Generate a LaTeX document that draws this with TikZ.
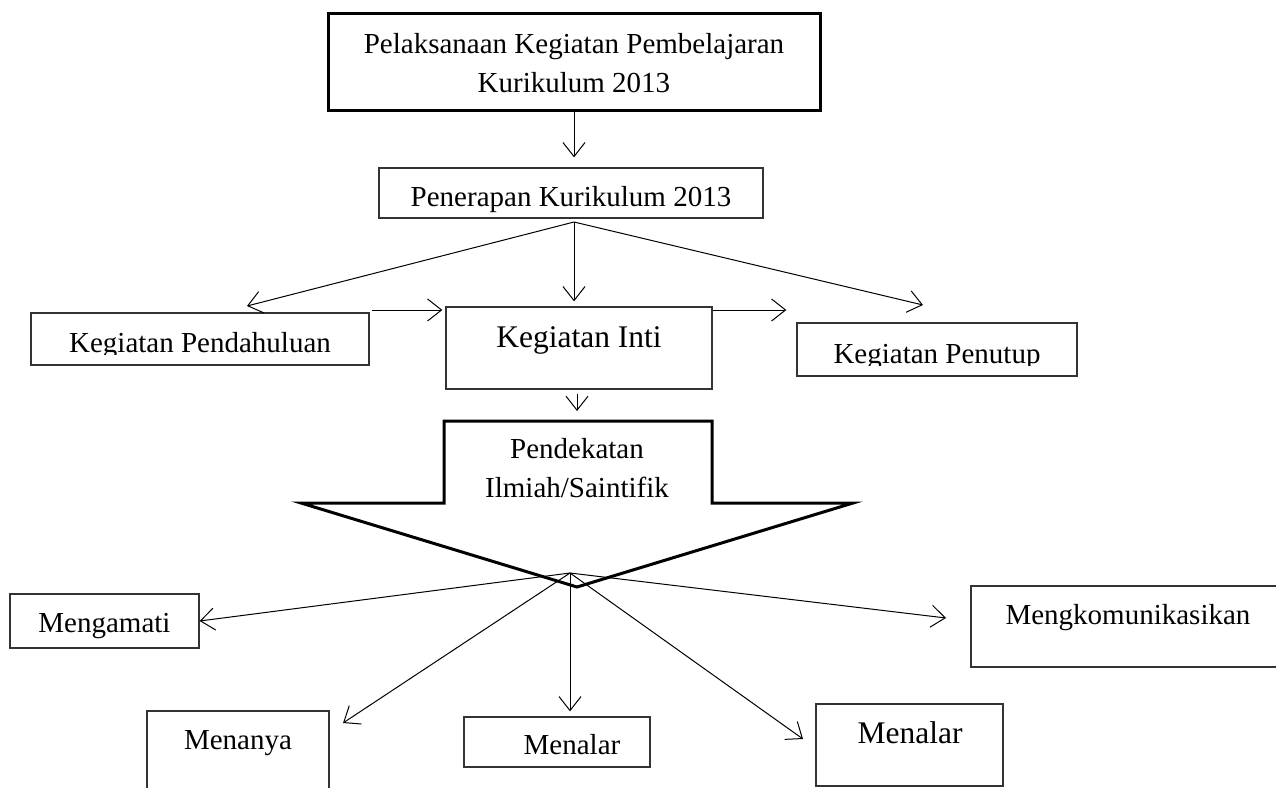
\documentclass[tikz,border=0pt]{standalone}
\usepackage{fontspec}
\setmainfont{Liberation Serif}
\usetikzlibrary{arrows.meta}

\tikzset{
  box/.style={draw=black!80, line width=1.3pt, inner sep=0pt},
  txt/.style={anchor=base, inner sep=0pt, font=\fontsize{29}{39}\selectfont},
  bigtxt/.style={anchor=base, inner sep=0pt, font=\fontsize{31.5}{38}\selectfont},
  arr/.style={draw, line width=1pt, -{Straight Barb[length=14pt,width=22pt]}},
}

\begin{document}
\begin{tikzpicture}[x=1pt,y=1pt,yscale=-1,xscale=1]
    \path[use as bounding box] (0,0) rectangle (1276,787); %page size of the diagram

    %Shape: Rectangle [top]
    \node[box, draw=black, line width=3pt, minimum width=492pt, minimum height=97pt] (plan) at (574,61.5) {};
    % Text Node
    \node[txt, anchor=center, align=center] (planText) at (574,62.6) {Pelaksanaan Kegiatan Pembelajaran\\Kurikulum 2013};

    %Shape: Rectangle
    \node[box, minimum width=384pt, minimum height=50pt] (apply) at (571,193) {};
    % Text Node
    \node[txt] (applyText) at (571,206) {Penerapan Kurikulum 2013};

    %Shape: Rectangle
    \node[box, minimum width=338pt, minimum height=52pt] (pend) at (200,339) {};
    %Shape: Rectangle
    \node[box, minimum width=266pt, minimum height=82pt] (inti) at (579,348) {};
    %Shape: Rectangle
    \node[box, minimum width=280pt, minimum height=53pt] (close) at (937,349.5) {};

    % Text Node (clipped by its text box)
    \begin{scope}
      \clip (0,0) rectangle (1276,354);
      \node[txt] (pendText) at (200,352) {Kegiatan Pendahuluan};
    \end{scope}
    % Text Node
    \node[bigtxt] (intiText) at (579,347) {Kegiatan Inti};
    % Text Node (clipped by its text box)
    \begin{scope}
      \clip (0,0) rectangle (1276,365);
      \node[txt] (closeText) at (937,363) {Kegiatan Penutup};
    \end{scope}

    %Shape: Down Arrow [callout]
    \draw[line width=3pt, line join=miter] (444,421) -- (712,421) -- (712,503) -- (853,503) -- (577,587) -- (301,503) -- (444,503) -- cycle;
    \coordinate (calloutTop) at (577,421);
    % Text Node
    \node[txt] (approachA) at (577,458) {Pendekatan};
    % Text Node
    \node[txt] (approachB) at (577,497) {Ilmiah/Saintifik};

    %Shape: Rectangle
    \node[box, minimum width=189pt, minimum height=54pt] (observe) at (104.5,621) {};
    %Shape: Rectangle
    \node[box, minimum width=182pt, minimum height=100pt] (ask) at (238,761) {};
    %Shape: Rectangle
    \node[box, minimum width=186pt, minimum height=50pt] (reason) at (557,742) {};
    %Shape: Rectangle
    \node[box, minimum width=187pt, minimum height=82pt] (reasonB) at (909.5,745) {};
    %Shape: Rectangle
    \node[box, minimum width=319pt, minimum height=81pt] (tell) at (1130.5,626.5) {};

    % Text Node
    \node[txt] (observeText) at (104.5,632) {Mengamati};
    % Text Node
    \node[txt] (askText) at (238,749) {Menanya};
    % Text Node
    \node[txt] (reasonText) at (572,754) {Menalar};
    % Text Node
    \node[bigtxt] (reasonBText) at (910,743) {Menalar};
    % Text Node
    \node[txt] (tellText) at (1128,624) {Mengkomunikasikan};

    %Connectors
    \coordinate (fanTop) at (574,222);
    \coordinate (pendTip) at (247,306);
    \coordinate (closeTip) at (923,305);
    \coordinate (pendOut) at (372,310);
    \coordinate (fanLow) at (570,573);
    \coordinate (askTip) at (343,723);
    \coordinate (reasonBTip) at (803,739);
    \coordinate (tellTip) at (946,618);

    \draw[arr, shorten >=10pt] (plan.south) -- (plan.south |- apply.north);
    \draw[arr] (fanTop) -- (pendTip);
    \draw[arr, shorten >=5pt] (fanTop) -- (fanTop |- inti.north);
    \draw[arr] (fanTop) -- (closeTip);
    \draw[arr, shorten >=3pt] (pendOut) -- (pendOut -| inti.west);
    \draw[arr, shorten >=10pt] (pendOut -| inti.east) -- (pendOut -| close.west);
    \draw[arr, shorten <=4pt, shorten >=10pt] (inti.south -| calloutTop) -- (calloutTop);

    \draw[arr] (fanLow) -- (observe.east);
    \draw[arr] (fanLow) -- (askTip);
    \draw[arr, shorten >=5pt] (fanLow) -- (fanLow |- reason.north);
    \draw[arr] (fanLow) -- (reasonBTip);
    \draw[arr] (fanLow) -- (tellTip);

\end{tikzpicture}
\end{document}
